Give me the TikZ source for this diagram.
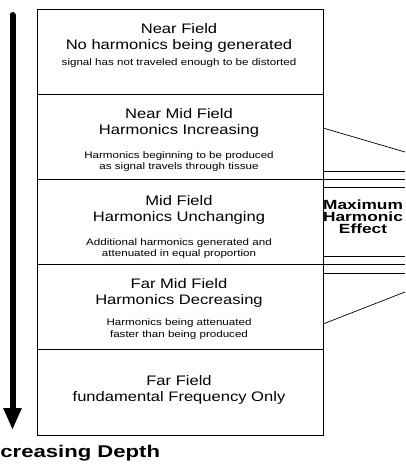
\documentclass[tikz,border=0pt]{standalone}
\usepackage{fontspec}
\setmainfont[FakeStretch=1.2]{Liberation Sans}
\newfontfamily\notefont[FakeStretch=1.22]{Liberation Sans}
\newfontfamily\maxfont[FakeStretch=1.3]{Liberation Sans}
\newfontfamily\depthfont[FakeStretch=1.3]{Liberation Sans}
\usetikzlibrary{arrows.meta}
\begin{document}
\begin{tikzpicture}[x=1pt,y=-1pt,line width=0.8pt]
\tikzset{
  zone/.style={draw,minimum width=286pt,minimum height=85pt,inner sep=0pt,anchor=north west},
  title/.style={font=\fontsize{13.8}{16}\selectfont,anchor=base,inner sep=0pt},
  note/.style={font=\notefont\fontsize{9.5}{11}\selectfont,anchor=base,inner sep=0pt},
  effect/.style={font=\maxfont\bfseries\fontsize{13.3}{12}\selectfont,anchor=base,inner sep=0pt},
  beam/.style={line width=0.7pt}
}
\useasboundingbox (0,0) rectangle (405,468);
% zones
\node[zone] (z1) at (37,9) {};
\node[zone] (z2) at (37,94) {};
\node[zone] (z3) at (37,179) {};
\node[zone] (z4) at (37,264) {};
\node[zone,minimum height=86pt] (z5) at (37,349) {};
% zone texts
\node[title] (t1a) at (179,33.3) {Near Field};
\node[title] (t1b) at (179,49.5) {No harmonics being generated};
\node[note]  (n1a) at (179,66) {signal has not traveled enough to be distorted};
\node[title] (t2a) at (179,118.3) {Near Mid Field};
\node[title] (t2b) at (179,134.3) {Harmonics Increasing};
\node[note]  (n2a) at (179,158.3) {Harmonics beginning to be produced};
\node[note]  (n2b) at (179,169) {as signal travels through tissue};
\node[title] (t3a) at (179,205) {Mid Field};
\node[title] (t3b) at (179,221.5) {Harmonics Unchanging};
\node[note]  (n3a) at (179,245) {Additional harmonics generated and};
\node[note]  (n3b) at (179,256) {attenuated in equal proportion};
\node[title] (t4a) at (179,288.3) {Far Mid Field};
\node[title] (t4b) at (179,304.3) {Harmonics Decreasing};
\node[note]  (n4a) at (179,325.7) {Harmonics being attenuated};
\node[note]  (n4b) at (179,337) {faster than being produced};
\node[title] (t5a) at (179,385) {Far Field};
\node[title] (t5b) at (179,401.7) {fundamental Frequency Only};
% right side beam lines
\coordinate (r1a) at (323,128); \coordinate (r1b) at (405,152);
\coordinate (r2a) at (323,171); \coordinate (r2b) at (405,171);
\coordinate (r3a) at (323,179); \coordinate (r3b) at (405,179);
\coordinate (r4a) at (323,187); \coordinate (r4b) at (405,187);
\coordinate (r5a) at (323,256); \coordinate (r5b) at (405,256);
\coordinate (r6a) at (323,264); \coordinate (r6b) at (405,264);
\coordinate (r7a) at (323,273); \coordinate (r7b) at (405,273);
\coordinate (r8a) at (323,324); \coordinate (r8b) at (405,292);
\draw[beam] (r1a) -- (r1b);
\draw[beam] (r2a) -- (r2b);
\draw[beam] (r3a) -- (r3b);
\draw[beam] (r4a) -- (r4b);
\draw[beam] (r5a) -- (r5b);
\draw[beam] (r6a) -- (r6b);
\draw[beam] (r7a) -- (r7b);
\draw[beam] (r8a) -- (r8b);
\node[effect] (e1) at (363,209) {Maximum};
\node[effect] (e2) at (363,221) {Harmonic};
\node[effect] (e3) at (363,233) {Effect};
% depth arrow
\coordinate (atop) at (12.5,15);
\coordinate (abot) at (12.5,430);
\draw[line width=6pt,line cap=round,-{Triangle[width=17pt,length=22pt]}] (atop) -- (abot);
\node[font=\depthfont\bfseries\fontsize{17}{19}\selectfont,anchor=base west,inner sep=0pt] (depth) at (0,457) {creasing Depth};
\end{tikzpicture}
\end{document}
